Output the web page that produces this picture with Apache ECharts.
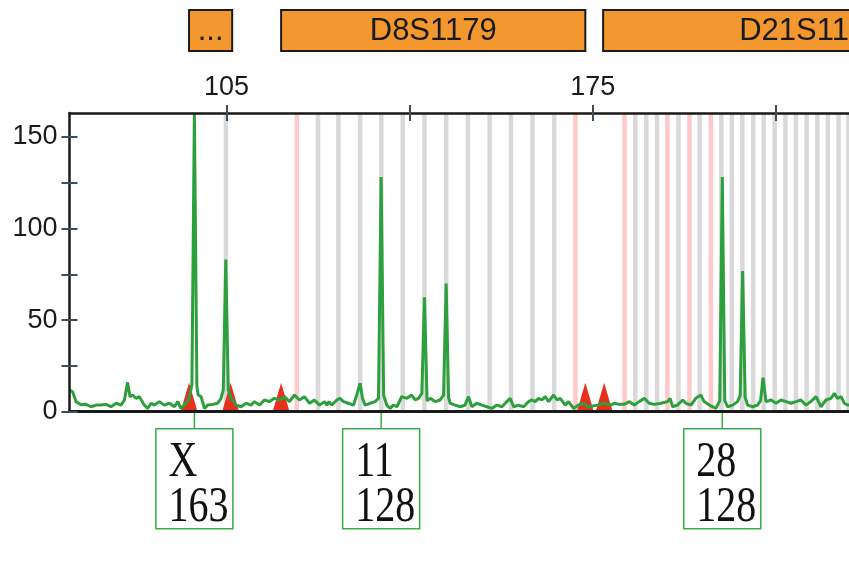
<!DOCTYPE html>
<html>
<head>
<meta charset="utf-8">
<title>STR profile</title>
<script src="https://cdn.jsdelivr.net/npm/echarts@6.0.0/dist/echarts.min.js"></script>
<style>
  html, body { margin: 0; padding: 0; background: #fff; }
  #chart { width: 849px; height: 577px; }
</style>
</head>
<body>
<div id="chart"></div>
<script>
// size in bp (x) and height in RFU (y)
var traceBp = [75.0, 75.6, 76.24, 77.2, 78.15, 79.1, 80.07, 81.0, 81.98, 82.94, 83.9, 84.85, 85.5, 86.1, 86.57, 87.08, 87.7, 88.35, 89.3, 89.95,
  90.6, 91.2, 92.18, 93.1, 94.1, 95.05, 95.7, 96.3, 96.96, 97.9, 98.4, 98.87, 99.35, 99.6, 100.15, 100.8, 101.4, 102.4, 103.3, 103.97,
  104.4, 104.87, 105.35, 105.9, 106.84, 107.8, 108.75, 109.7, 110.35, 111.3, 112.26, 113.2, 114.17, 115.13, 116.1, 117.04, 118.0, 118.95, 119.9, 120.87,
  121.8, 122.8, 123.74, 124.2, 124.6, 125.1, 126.1, 126.7, 127.37, 128.3, 129.3, 129.9, 130.55, 131.0, 131.5, 132.5, 133.4, 134.06, 134.57, 135.05,
  135.65, 136.3, 136.9, 137.6, 138.5, 139.5, 140.4, 141.07, 141.7, 142.35, 142.85, 143.35, 143.94, 144.9, 145.85, 146.5, 147.0, 147.45, 147.77, 148.7,
  149.7, 150.6, 151.27, 151.9, 152.86, 153.8, 154.78, 155.73, 156.7, 157.65, 158.6, 159.24, 159.9, 160.8, 161.8, 162.75, 163.4, 164.0, 164.66, 165.3,
  165.93, 166.57, 167.53, 168.2, 168.8, 169.76, 170.4, 171.35, 172.3, 173.3, 174.2, 175.94, 177.2, 178.5, 179.1, 180.1, 181.04, 182.0, 182.95, 183.9,
  184.9, 185.8, 186.8, 188.05, 189.3, 189.8, 190.3, 191.2, 192.2, 192.8, 193.8, 194.7, 195.7, 196.3, 197.3, 198.57, 199.3, 199.78, 200.25, 200.8,
  201.76, 202.7, 203.2, 203.67, 204.15, 204.6, 205.6, 206.5, 207.1, 207.57, 208.13, 209.1, 210.05, 211.0, 211.96, 212.9, 213.87, 214.8, 215.78, 216.7,
  217.7, 218.65, 219.6, 220.56, 221.2, 221.8, 222.5, 223.1, 223.75, 224.0];
var traceRfu = [11.8, 10.9, 5.5, 3.8, 4.0, 2.7, 3.6, 3.6, 4.0, 2.7, 4.6, 3.6, 6.4, 16.0, 8.2, 9.1, 7.3, 8.2, 3.6, 1.8,
  4.6, 3.6, 5.5, 3.6, 4.6, 2.7, 5.5, 1.8, 3.6, 7.3, 15, 163, 14, 9.1, 8.2, 1.8, 3.6, 4.0, 4.6, 7.3,
  12, 83, 12, 7.3, 3.6, 2.7, 4.6, 3.6, 5.5, 3.6, 6.4, 5.5, 7.3, 6.4, 8.2, 5.5, 9.1, 6.4, 8.2, 4.6,
  6.4, 3.6, 5.5, 3.6, 5.5, 3.6, 6.4, 7.3, 5.5, 4.6, 3.6, 9.1, 15.5, 7.3, 3.6, 4.6, 5.5, 7.3, 128, 9,
  3.6, 1.8, 3.6, 2.7, 8.2, 7.3, 9.1, 6.4, 7.3, 10, 62.4, 6, 7.3, 5.5, 6.4, 9, 70, 8, 4.6, 3.6,
  2.7, 3.6, 8.2, 2.7, 4.6, 3.6, 2.7, 1.8, 3.6, 2.7, 5.5, 7.3, 2.7, 3.6, 2.7, 5.5, 6.4, 5.5, 7.3, 6.4,
  8.2, 5.5, 9.1, 6.4, 7.3, 3.6, 5.5, 1.8, 3.6, 4.6, 2.7, 3.6, 4.6, 3.6, 4.6, 4.0, 4.0, 5.5, 3.6, 5.5,
  7.3, 4.6, 4.0, 4.6, 5.5, 7.3, 2.7, 3.6, 6.4, 4.6, 3.6, 7.3, 9.1, 5.5, 3.6, 1.8, 6, 128, 6, 2.7,
  3.6, 5.5, 9, 76.8, 8, 3.6, 2.7, 3.6, 6, 18.6, 5.5, 6.4, 4.6, 6.4, 5.5, 4.6, 5.5, 6.4, 3.6, 5.5,
  8.2, 2.7, 6.4, 7.3, 10.0, 7.3, 8.2, 4.6, 3.6, 3.6];

// allele bins
var greyBins = [104.9, 122.5, 126.4, 130.55, 134.6, 138.7, 142.85, 147.0, 151.15, 155.3, 159.4, 163.5, 167.65,
  183.15, 185.25, 187.3, 191.4, 195.45, 199.6, 201.6, 203.6, 205.7, 207.7, 209.8, 211.85, 213.85, 215.9, 217.95, 219.95, 222.0, 223.9];
var pinkBins = [118.45, 171.7, 181.1, 189.3, 193.5, 197.6];

// red markers on the baseline
var markerBp = [97.85, 105.8, 115.45, 173.6, 177.2];

// loci
var lociNames = ['...', 'D8S1179', 'D21S11'];
var lociStart = [97.85, 115.45, 177.0];
var lociEnd = [106.1, 173.6, 250.0];

// called alleles
var alleleNames = ['X', '11', '28'];
var alleleBp = [98.87, 134.57, 199.78];
var alleleRfu = [163, 128, 128];

var xTicks = [105, 140, 175, 210];
var xLabels = [105, 175];
var yTicks = [0, 25, 50, 75, 100, 125, 150];
var yLabels = [0, 50, 100, 150];

var xMin = 75, xMax = 224, yMax = 163;
var green = '#2ca03c';
var boxGreen = '#3aaa4a';
var sans = '"Liberation Sans", Arial, sans-serif';

var myChart = echarts.init(document.getElementById('chart'));

function binSeries(list, color) {
    return {
        type: 'custom',
        silent: true,
        z: 1,
        clip: true,
        data: list.map(function (b) { return [b]; }),
        encode: { x: 0 },
        renderItem: function (params, api) {
            var top = api.coord([api.value(0), yMax]);
            var bot = api.coord([api.value(0), 0]);
            return {
                type: 'rect',
                shape: { x: top[0] - 2.25, y: top[1], width: 4.5, height: bot[1] - top[1] },
                style: { fill: color }
            };
        }
    };
}

var tickStyle = { color: '#3d4f5c', width: 2 };
var lineStyle = { color: '#1a1a1a', width: 2.5 };

myChart.setOption({
    animation: false,
    grid: { left: 69.5, top: 113, right: 0, bottom: 165.3 },
    xAxis: [{
        type: 'value', position: 'top', min: xMin, max: xMax, z: 10,
        axisLine: { show: true, onZero: false, lineStyle: lineStyle },
        axisTick: { show: true, customValues: xTicks, length: 8, lineStyle: tickStyle },
        axisLabel: { customValues: xLabels, fontSize: 27, fontFamily: sans, color: '#1a1a1a', margin: 12 },
        splitLine: { show: false }
    }, {
        type: 'value', position: 'top', min: xMin, max: xMax, z: 10,
        axisLine: { show: false, onZero: false },
        axisTick: { show: true, inside: true, customValues: xTicks, length: 8, lineStyle: tickStyle },
        axisLabel: { show: false },
        splitLine: { show: false }
    }, {
        type: 'value', position: 'bottom', min: xMin, max: xMax, z: 10,
        axisLine: { show: true, onZero: false, lineStyle: { color: '#1a1a1a', width: 3 } },
        axisTick: { show: false },
        axisLabel: { show: false },
        splitLine: { show: false }
    }],
    yAxis: [{
        type: 'value', min: 0, max: yMax, z: 10,
        axisLine: { show: true, onZero: false, lineStyle: lineStyle },
        axisTick: { show: true, customValues: yTicks, length: 8, lineStyle: tickStyle },
        axisLabel: { customValues: yLabels, fontSize: 27, fontFamily: sans, color: '#1a1a1a', margin: 12 },
        splitLine: { show: false }
    }, {
        type: 'value', position: 'left', min: 0, max: yMax, z: 10,
        axisLine: { show: false, onZero: false },
        axisTick: { show: true, inside: true, customValues: yTicks, length: 8, lineStyle: tickStyle },
        axisLabel: { show: false },
        splitLine: { show: false }
    }],
    series: [
        binSeries(greyBins, '#d9d9d9'),
        binSeries(pinkBins, '#ffc9c9'),
        {
            type: 'scatter',
            silent: true,
            z: 2,
            symbol: 'triangle',
            symbolSize: [17, 29],
            symbolOffset: [0, '-50%'],
            itemStyle: { color: '#e8301e', opacity: 1 },
            data: markerBp.map(function (b) { return [b, 0]; })
        },
        {
            type: 'line',
            silent: true,
            z: 3,
            showSymbol: false,
            lineStyle: { color: green, width: 3 },
            data: traceBp.map(function (b, i) { return [b, traceRfu[i]]; })
        },
        {
            type: 'custom',
            silent: true,
            clip: false,
            z: 4,
            data: lociStart.map(function (s, i) { return [s, lociEnd[i]]; }),
            encode: { x: [0, 1] },
            renderItem: function (params, api) {
                var s = api.coord([api.value(0), 0])[0];
                var e = api.coord([api.value(1), 0])[0];
                return {
                    type: 'group',
                    children: [{
                        type: 'rect',
                        shape: { x: s, y: 10, width: e - s, height: 41 },
                        style: { fill: '#f3982f', stroke: '#1a1a1a', lineWidth: 2 }
                    }, {
                        type: 'text',
                        x: (s + e) / 2, y: 31,
                        style: {
                            text: lociNames[params.dataIndex],
                            fontSize: 31, fontFamily: sans, fill: '#1a1a1a',
                            align: 'center', verticalAlign: 'middle'
                        }
                    }]
                };
            }
        },
        {
            type: 'custom',
            silent: true,
            clip: false,
            z: 4,
            data: alleleBp.map(function (b) { return [b]; }),
            encode: { x: 0 },
            renderItem: function (params, api) {
                var p = api.coord([api.value(0), 0]);
                var i = params.dataIndex;
                var serif = '"Liberation Serif", "Times New Roman", serif';
                return {
                    type: 'group',
                    children: [{
                        type: 'line',
                        shape: { x1: p[0], y1: p[1], x2: p[0], y2: p[1] + 17 },
                        style: { stroke: boxGreen, lineWidth: 1.5 }
                    }, {
                        type: 'rect',
                        shape: { x: p[0] - 38.5, y: p[1] + 17, width: 77, height: 100 },
                        style: { fill: '#fff', stroke: boxGreen, lineWidth: 1.5 }
                    }, {
                        type: 'text',
                        x: p[0] - 26, y: p[1] + 51, scaleY: 1.25,
                        style: { text: alleleNames[i], fontSize: 40, fontFamily: serif, fill: '#111', verticalAlign: 'middle' }
                    }, {
                        type: 'text',
                        x: p[0] - 26, y: p[1] + 96, scaleY: 1.25,
                        style: { text: String(alleleRfu[i]), fontSize: 40, fontFamily: serif, fill: '#111', verticalAlign: 'middle' }
                    }]
                };
            }
        }
    ]
});
</script>
</body>
</html>
